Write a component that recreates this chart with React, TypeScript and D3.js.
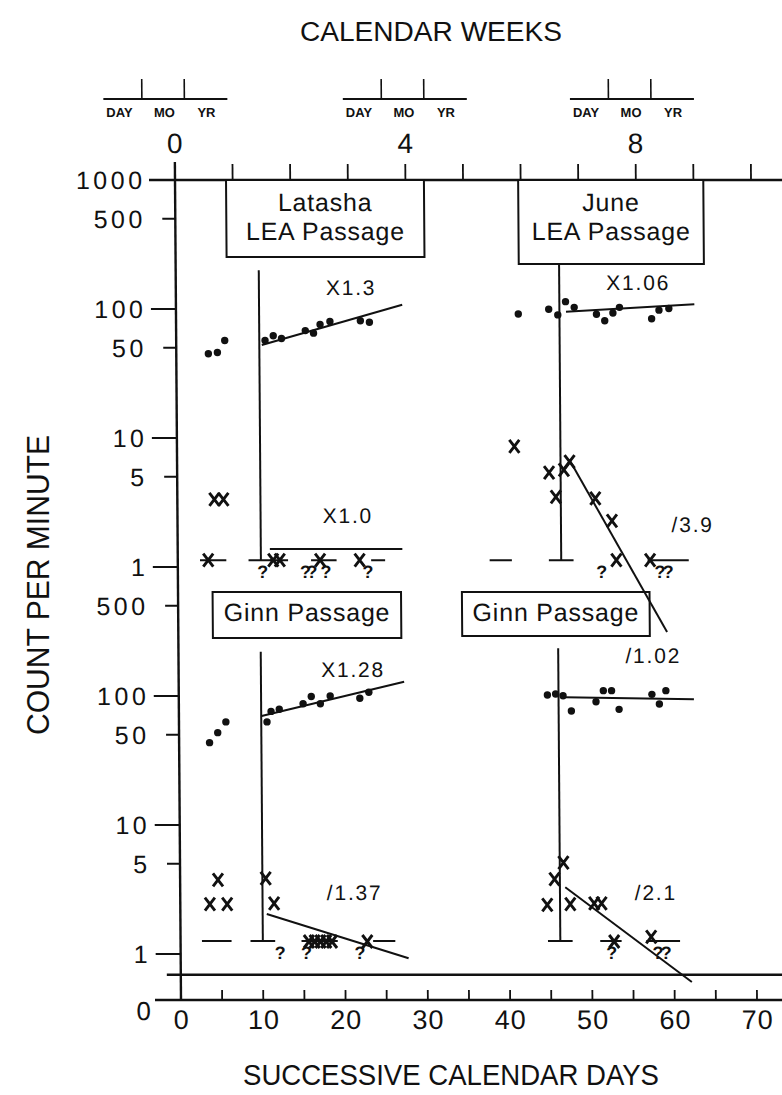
import React from "react";
import * as d3 from "d3";

type Pt = [number, number];
type Label = [string, number, number];

// ---------- axes ----------
const DAY_LABELS = [0, 10, 20, 30, 40, 50, 60, 70];
const DAY_TICKS = d3.range(5, 71, 5);
const WEEK_TICKS = d3.range(0, 71, 7);
const WEEK_LABELS = [0, 4, 8];
const DMY_CENTERS = [-1.1, 28, 55.6]; // day under the middle of each DAY MO YR stamp
const Y_TOP_LABELS = [1000, 500, 100, 50, 10, 5, 1];
const Y_BOTTOM_LABELS = [500, 100, 50, 10, 5, 1];
const MAJOR = [1000, 100, 10, 1];

const FLOOR_TOP = 1.13; // record floor, LEA charts
const FLOOR_BOTTOM = 1.26; // record floor, Ginn charts

// ---------- Latasha, LEA passage (top left) ----------
const latLeaPhase = 10.1;
const latLeaCorrect: Pt[] = [[3.9, 45], [5, 46], [5.9, 57], [10.8, 57], [11.8, 62], [12.8, 59], [15.7, 68], [16.7, 65], [17.5, 76], [18.7, 80], [22.4, 81], [23.5, 79]];
const latLeaErrors: Pt[] = [[3.7, 1.13], [4.5, 3.35], [5.6, 3.35], [11.6, 1.13], [12.4, 1.13], [17.3, 1.13], [22.1, 1.13]];
const latLeaZeros = [10.3, 15.5, 16.3, 18.0, 23.1];
const latLeaCorrectLine: Pt[] = [[10.4, 52.6], [27.5, 108]];
const latLeaErrorLine: Pt[] = [[11.2, 1.38], [27.3, 1.38]];
const latLeaFloor: Pt[] = [[2.7, 5.9], [11.2, 13.4], [16.2, 19.3], [23.5, 25.2]];
const latLeaLabels: Label[] = [["X1.3", 21.3, 128], ["X1.0", 20.7, 2.19]];

// ---------- June, LEA passage (top right) ----------
const junLeaPhase = 46.6;
const junLeaCorrect: Pt[] = [[41.6, 91.5], [45.3, 99.5], [46.4, 90], [47.35, 114], [48.4, 103], [51.1, 91], [52.1, 81], [53.1, 93], [53.9, 103], [57.8, 84], [58.7, 98], [59.9, 101]];
const junLeaErrors: Pt[] = [[41.0, 8.6], [45.2, 5.4], [46.0, 3.5], [47.0, 5.65], [47.7, 6.55], [50.8, 3.41], [52.8, 2.28], [53.3, 1.13], [57.4, 1.13]];
const junLeaZeros = [51.5, 58.6, 59.6];
const junLeaCorrectLine: Pt[] = [[47.4, 95.3], [63, 109]];
const junLeaErrorLine: Pt[] = [[47.7, 6.75], [59.4, 0.313]];
const junLeaFloor: Pt[] = [[37.9, 40.6], [57.1, 62.1]];
const junLeaLabels: Label[] = [["X1.06", 56.2, 140], ["/3.9", 62.6, 1.87]];

// ---------- Latasha, Ginn passage (bottom left) ----------
const latGinnPhase = 10.0;
const latGinnCorrect: Pt[] = [[3.7, 43.5], [4.7, 52], [5.7, 63], [10.7, 63], [11.2, 76], [12.2, 79], [15.1, 87], [16.1, 99], [17.2, 87], [18.4, 100], [22.0, 96], [23.1, 107]];
const latGinnErrors: Pt[] = [[3.6, 2.44], [4.6, 3.75], [5.7, 2.44], [10.4, 3.85], [11.4, 2.47], [15.6, 1.25], [16.3, 1.25], [17.0, 1.25], [17.7, 1.25], [18.4, 1.25], [22.7, 1.25]];
const latGinnZeros = [12.1, 15.3, 21.8];
const latGinnCorrectLine: Pt[] = [[10.05, 70], [27.4, 129]];
const latGinnErrorLine: Pt[] = [[10.5, 2.04], [27.7, 0.926]];
const latGinnFloor: Pt[] = [[2.6, 6.2], [14.7, 19.1], [23.4, 26.1]];
const latGinnLabels: Label[] = [["X1.28", 21.2, 140], ["/1.37", 21.2, 2.62]];

// ---------- June, Ginn passage (bottom right) ----------
const junGinnPhase = 46.15;
const junGinnCorrect: Pt[] = [[44.8, 101.8], [45.8, 103.7], [46.7, 100.5], [47.7, 76.5], [50.7, 90.3], [51.6, 110], [52.6, 110], [53.5, 78.8], [57.5, 103], [58.4, 86.7], [59.2, 110]];
const junGinnErrors: Pt[] = [[44.6, 2.4], [45.5, 3.8], [46.6, 5.1], [47.4, 2.44], [50.3, 2.47], [51.2, 2.47], [52.7, 1.25], [57.2, 1.36]];
const junGinnZeros = [52.4, 58.0, 59.0];
const junGinnCorrectLine: Pt[] = [[46.9, 98], [62.6, 94.5]];
const junGinnErrorLine: Pt[] = [[46.8, 3.29], [62.1, 0.607]];
const junGinnFloor: Pt[] = [[51.0, 53.6], [56.6, 60.7]];
const junGinnLabels: Label[] = [["/1.02", 57.7, 180], ["/2.1", 57.8, 2.62]];

const FONT = "'Liberation Sans', Arial, Helvetica, sans-serif";
const SKEW = 6 / 820; // the scan leans a little

export default function App() {
  const x = d3.scaleLinear().domain([0, 70]).range([175, 751]);
  const yTop = d3.scaleLog().domain([1, 1000]).range([567, 180]);
  const yBot = d3.scaleLog().domain([1, 1000]).range([954, 567]);
  const lineFor = (y: d3.ScaleLogarithmic<number, number>) =>
    d3.line<Pt>().x(d => x(d[0])).y(d => y(d[1]));

  const panels = [
    { y: yTop, floor: FLOOR_TOP, phase: latLeaPhase, phaseTop: 200, correct: latLeaCorrect, errors: latLeaErrors, zeros: latLeaZeros, lines: [latLeaCorrectLine, latLeaErrorLine], floors: latLeaFloor, labels: latLeaLabels },
    { y: yTop, floor: FLOOR_TOP, phase: junLeaPhase, phaseTop: 223, correct: junLeaCorrect, errors: junLeaErrors, zeros: junLeaZeros, lines: [junLeaCorrectLine, junLeaErrorLine], floors: junLeaFloor, labels: junLeaLabels },
    { y: yBot, floor: FLOOR_BOTTOM, phase: latGinnPhase, phaseTop: 220, correct: latGinnCorrect, errors: latGinnErrors, zeros: latGinnZeros, lines: [latGinnCorrectLine, latGinnErrorLine], floors: latGinnFloor, labels: latGinnLabels },
    { y: yBot, floor: FLOOR_BOTTOM, phase: junGinnPhase, phaseTop: 235, correct: junGinnCorrect, errors: junGinnErrors, zeros: junGinnZeros, lines: [junGinnCorrectLine, junGinnErrorLine], floors: junGinnFloor, labels: junGinnLabels },
  ];

  const boxes = [
    { text: ["Latasha", "LEA Passage"], y: yTop, d0: 6.2, d1: 30.25, v0: 1000, v1: 253 },
    { text: ["June", "LEA Passage"], y: yTop, d0: 41.7, d1: 64.2, v0: 1000, v1: 223 },
    { text: ["Ginn Passage"], y: yBot, d0: 4.2, d1: 27.1, v0: 640, v1: 282 },
    { text: ["Ginn Passage"], y: yBot, d0: 34.5, d1: 57.3, v0: 640, v1: 292 },
  ];

  const zeroY = 1000;
  const ink = "#111";

  return (
    <svg width={782} height={1095} style={{ position: "absolute", left: 0, top: 0, background: "#fff" }} fontFamily={FONT}>
      <rect width={782} height={1095} fill="#fff" />
      <text x={431} y={41} fontSize={27} textLength={262} lengthAdjust="spacingAndGlyphs" textAnchor="middle" fill={ink}>CALENDAR WEEKS</text>
      <text x={451} y={1085} fontSize={29} textLength={416} lengthAdjust="spacingAndGlyphs" textAnchor="middle" fill={ink}>SUCCESSIVE CALENDAR DAYS</text>
      <text transform="translate(49,585) rotate(-90)" fontSize={31} textLength={300} lengthAdjust="spacingAndGlyphs" textAnchor="middle" fill={ink}>COUNT PER MINUTE</text>

      <g transform={`matrix(1 0 ${SKEW} 1 ${-SKEW * 180} 0)`} stroke={ink} fill="none">
        {/* DAY MO YR stamps */}
        {DMY_CENTERS.map((d, i) => {
          const c = x(d);
          return (
            <g key={i}>
              <line x1={c - 62} x2={c + 62} y1={99} y2={99} strokeWidth={2} />
              <line x1={c - 23.5} x2={c - 23.5} y1={79} y2={99} strokeWidth={1.6} />
              <line x1={c + 19} x2={c + 19} y1={79} y2={99} strokeWidth={1.6} />
              <g stroke="none" fill={ink} fontSize={13} fontWeight="bold" textAnchor="middle">
                <text x={c - 46} y={117}>DAY</text>
                <text x={c - 1} y={117}>MO</text>
                <text x={c + 41} y={117}>YR</text>
              </g>
            </g>
          );
        })}
        {WEEK_LABELS.map(w => (
          <text key={w} x={x(w * 7)} y={153} fontSize={28} textAnchor="middle" stroke="none" fill={ink}>{w}</text>
        ))}
        {WEEK_TICKS.map(d => (
          <line key={d} x1={x(d)} x2={x(d)} y1={164} y2={180} strokeWidth={1.8} />
        ))}

        {/* frame lines */}
        <line x1={149} x2={800} y1={yTop(1000)} y2={yTop(1000)} strokeWidth={2.4} />
        <line x1={161} x2={800} y1={yBot(0.69)} y2={yBot(0.69)} strokeWidth={2.4} />
        <line x1={149} x2={800} y1={zeroY} y2={zeroY} strokeWidth={2.4} />
        <line x1={x(0)} x2={x(0)} y1={162} y2={zeroY} strokeWidth={2.4} />
        {DAY_TICKS.map(d => (
          <line key={d} x1={x(d)} x2={x(d)} y1={990} y2={zeroY} strokeWidth={1.8} />
        ))}
        <g stroke="none" fill={ink} fontSize={27} letterSpacing={1} textAnchor="middle">
          {DAY_LABELS.map(d => (
            <text key={d} x={x(d) + 0.5} y={1029}>{d}</text>
          ))}
          <text x={138} y={1020} fontSize={26}>0</text>
        </g>

        {/* count axis */}
        {([[yTop, Y_TOP_LABELS], [yBot, Y_BOTTOM_LABELS]] as [d3.ScaleLogarithmic<number, number>, number[]][]).map(([y, labels], i) => (
          <g key={i}>
            {labels.map(v => (
              <g key={v}>
                <line x1={MAJOR.includes(v) ? 150 : 162} x2={x(0)} y1={y(v)} y2={y(v)} strokeWidth={2} />
                <text x={145.5} y={y(v) + 8.7} fontSize={25} letterSpacing={3.5} textAnchor="end" stroke="none" fill={ink}>{v}</text>
              </g>
            ))}
          </g>
        ))}

        {/* label boxes */}
        {boxes.map((b, i) => {
          const x0 = x(b.d0), x1 = x(b.d1), y0 = b.y(b.v0), y1 = b.y(b.v1);
          return (
            <g key={i}>
              <rect x={x0} y={y0} width={x1 - x0} height={y1 - y0} fill="#fff" strokeWidth={2} />
              {b.text.map((t, j) => (
                <text key={j} x={(x0 + x1) / 2} y={y0 + 31 + j * 29 - (b.text.length === 1 ? 2 : 0)} fontSize={25} letterSpacing={0.8}
                  textAnchor="middle" stroke="none" fill={ink}>{t}</text>
              ))}
            </g>
          );
        })}

        {/* the four charts */}
        {panels.map((p, i) => {
          const fy = p.y(p.floor);
          const px = x(p.phase);
          const line = lineFor(p.y);
          return (
            <g key={i}>
              <line x1={px} x2={px} y1={p.y(p.phaseTop)} y2={fy} strokeWidth={2} />
              <line x1={x(p.phase - 1.5)} x2={x(p.phase + 1.5)} y1={fy} y2={fy} strokeWidth={2} />
              {p.floors.map(([a, b], j) => (
                <line key={j} x1={x(a)} x2={x(b)} y1={fy} y2={fy} strokeWidth={2} />
              ))}
              {p.lines.map((l, j) => (
                <path key={j} d={line(l) || ""} strokeWidth={2} />
              ))}
              {p.correct.map(([d, v], j) => (
                <circle key={j} cx={x(d)} cy={p.y(v)} r={3.7} fill={ink} stroke="none" />
              ))}
              {p.errors.map(([d, v], j) => (
                <path key={j} transform={`translate(${x(d)},${p.y(v)})`} d="M-5,-6.5L5,6.5M5,-6.5L-5,6.5" strokeWidth={2.9} />
              ))}
              <g stroke="none" fill={ink} fontSize={18} fontWeight="bold" textAnchor="middle">
                {p.zeros.map((d, j) => (
                  <text key={j} x={x(d)} y={fy + 18}>?</text>
                ))}
              </g>
              <g stroke="none" fill={ink} fontSize={21} letterSpacing={1.8} textAnchor="middle">
                {p.labels.map(([t, d, v], j) => (
                  <text key={j} x={x(d)} y={p.y(v)}>{t}</text>
                ))}
              </g>
            </g>
          );
        })}
      </g>
    </svg>
  );
}
